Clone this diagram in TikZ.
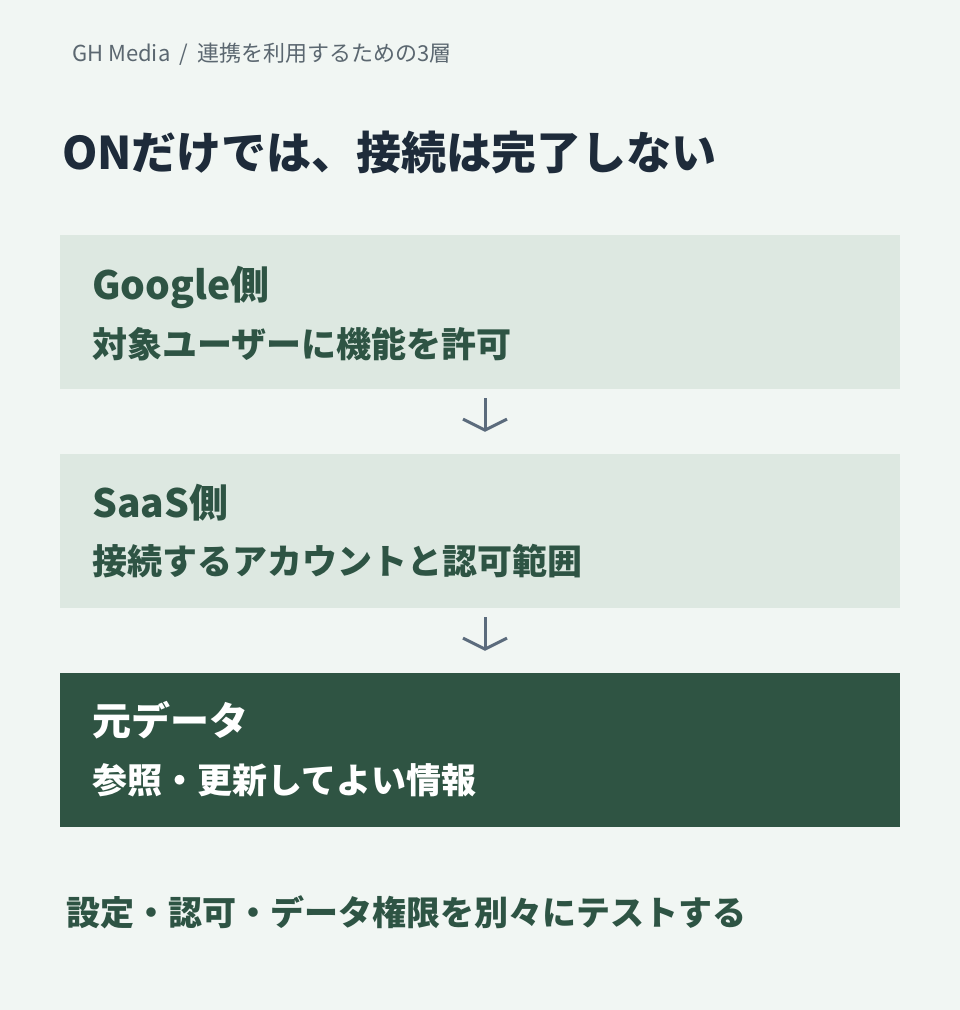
\documentclass[tikz,border=0pt]{standalone}
\usepackage{fontspec}
\setmainfont{Noto Sans CJK JP}
\usetikzlibrary{arrows.meta}

\definecolor{paper}{HTML}{F1F6F3}
\definecolor{layerlight}{HTML}{DDE8E1}
\definecolor{layerdark}{HTML}{2F5443}
\definecolor{greentext}{HTML}{2E5444}
\definecolor{navytext}{HTML}{1E2B3A}
\definecolor{graytext}{HTML}{5B6770}
\definecolor{arrowgray}{HTML}{5B6B7C}

\tikzset{
  layer/.style={draw=none, fill=layerlight, minimum width=840bp, minimum height=154bp, inner sep=0pt},
  layerhead/.style={anchor=base west, inner sep=0pt, text=greentext, font=\fontsize{39bp}{43bp}\selectfont\bfseries},
  layersub/.style={anchor=base west, inner sep=0pt, text=greentext, font=\fontsize{35bp}{39bp}\selectfont\bfseries},
  flow/.style={arrowgray, line width=3bp, -{Straight Barb[length=11bp,width=44bp]}, shorten <=9bp, shorten >=22bp},
}

\begin{document}
\begin{tikzpicture}
%%
\fill [paper] (0bp,0bp) rectangle (960bp,1010bp);
\useasboundingbox (0bp,0bp) rectangle (960bp,1010bp);
%
\node (crumb) at (72bp,948.6bp) [anchor=base west,inner sep=0pt,text=graytext,font=\fontsize{22bp}{26bp}\selectfont] {GH Media\hspace{9bp}/\hspace{9bp}連携を利用するための3層};
  \node (headline) at (62bp,840.9bp) [anchor=base west,inner sep=0pt,text=navytext,font=\fontsize{45bp}{49bp}\selectfont\bfseries] {ONだけでは、接続は完了しない};
%
\node (layer_google) at (480bp,698bp) [layer] {};
  \node (layer_saas) at (480bp,479bp) [layer] {};
  \node (layer_data) at (480bp,260bp) [layer,fill=layerdark] {};
%
\node (google_head) at (92bp,710.2bp) [layerhead] {Google側};
  \node (google_sub) at (92bp,652.7bp) [layersub] {対象ユーザーに機能を許可};
  \node (saas_head) at (92bp,492.2bp) [layerhead] {SaaS側};
  \node (saas_sub) at (92bp,435.7bp) [layersub] {接続するアカウントと認可範囲};
  \node (data_head) at (92bp,274.2bp) [layerhead,text=white] {元データ};
  \node (data_sub) at (92bp,216.7bp) [layersub,text=white] {参照・更新してよい情報};
%
\draw [flow] ([xshift=5bp]layer_google.south) -- ([xshift=5bp]layer_saas.north);
  \draw [flow] ([xshift=5bp]layer_saas.south) -- ([xshift=5bp]layer_data.north);
%
\node (footnote) at (66bp,84.1bp) [anchor=base west,inner sep=0pt,text=greentext,font=\fontsize{34bp}{38bp}\selectfont\bfseries] {設定・認可・データ権限を別々にテストする};
%
\end{tikzpicture}
\end{document}
